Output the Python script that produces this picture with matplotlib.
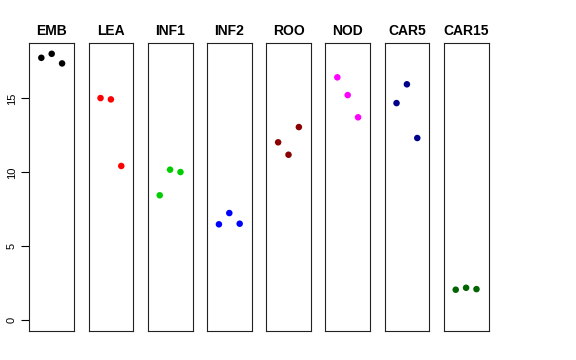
import matplotlib
matplotlib.use("Agg")
import matplotlib.pyplot as plt

plt.rcParams['font.family'] = ['Liberation Sans', 'DejaVu Sans']

# panel names, colours and the three replicate values per panel
tissues = ["EMB", "LEA", "INF1", "INF2", "ROO", "NOD", "CAR5", "CAR15"]
colors = ["#000000", "#FF0000", "#00CD00", "#0000FF", "#8B0000", "#FF00FF", "#00008B", "#006400"]
emb = [17.74, 18.01, 17.36]
lea = [15.02, 14.93, 10.43]
inf1 = [8.45, 10.18, 10.02]
inf2 = [6.49, 7.25, 6.53]
roo = [12.03, 11.19, 13.06]
nod = [16.42, 15.22, 13.72]
car5 = [14.68, 15.95, 12.32]
car15 = [2.07, 2.20, 2.11]
values = [emb, lea, inf1, inf2, roo, nod, car5, car15]
reps = [1, 2, 3]
yticks = [0, 5, 10, 15]

W, H = 576, 360
fig = plt.figure(figsize=(W / 100, H / 100), dpi=100)

left0 = 29.3
step = 59.2
width = 44.8
top, bottom = 43.3, 331.0

for i, (name, col, vals) in enumerate(zip(tissues, colors, values)):
    x0 = left0 + i * step
    ax = fig.add_axes([x0 / W, 1 - bottom / H, width / W, (bottom - top) / H])
    ax.scatter(reps, vals, s=22, color=col, edgecolors="none", zorder=3)
    ax.set_xlim(-0.16, 4.16)
    ax.set_ylim(-0.72, 18.72)
    ax.set_xticks([])
    for sp in ax.spines.values():
        sp.set_linewidth(0.8)
        sp.set_color("#222222")
    ax.set_title(name, fontsize=10, fontweight="bold", pad=6)
    if i == 0:
        ax.set_yticks(yticks)
        ax.set_yticklabels([str(t) for t in yticks], rotation=90, va="center", fontsize=8)
        ax.tick_params(axis="y", length=6, width=0.8, pad=3)
    else:
        ax.set_yticks([])

fig.savefig("out.png", dpi=100)
